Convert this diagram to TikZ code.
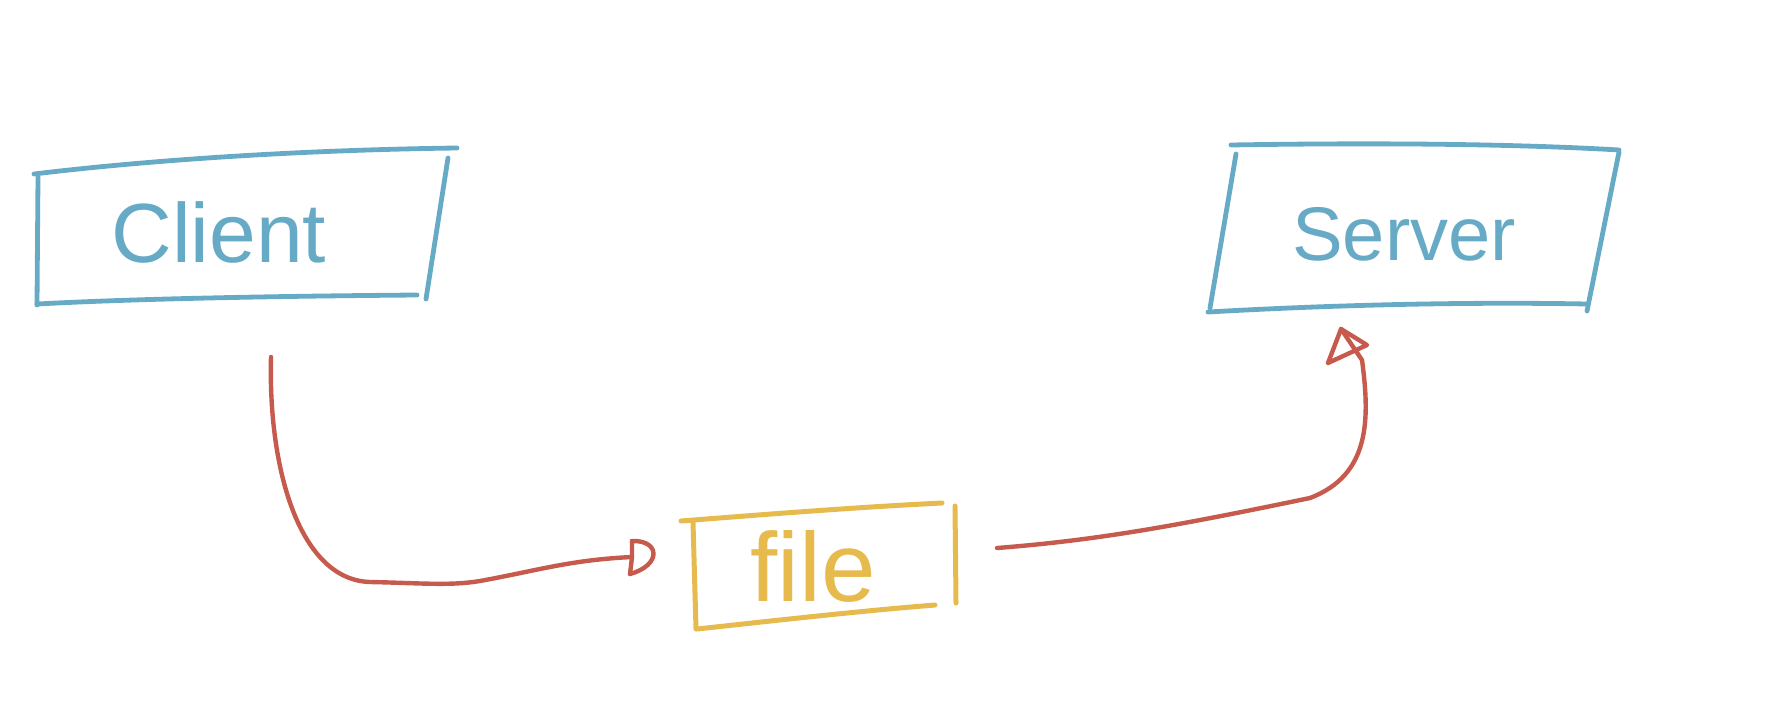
\documentclass[tikz,border=0pt]{standalone}
\usepackage{fontspec}
\setmainfont{Liberation Sans}
\definecolor{sketchblue}{HTML}{66AAC6}
\definecolor{sketchyellow}{HTML}{E7BA4E}
\definecolor{sketchred}{HTML}{C65A4C}
\tikzset{
  bluestroke/.style={draw=sketchblue, line width=4.8pt, line cap=round, line join=round},
  yellowstroke/.style={draw=sketchyellow, line width=5pt, line cap=round, line join=round},
  redstroke/.style={draw=sketchred, line width=4.4pt, line cap=round, line join=round},
  label/.style={inner sep=0pt, anchor=center}
}
\begin{document}
\begin{tikzpicture}[x=1pt, y=-1pt]
\useasboundingbox (0,0) rectangle (1790,712);
% Client box
\draw[bluestroke] (34,174) .. controls (150,160) and (300,150) .. (457,148);
\draw[bluestroke] (38,177) -- (37,305);
\draw[bluestroke] (37,304) .. controls (150,298) and (300,296) .. (417,295);
\draw[bluestroke] (448,158) -- (426,299);
\node[label, text=sketchblue, font=\fontsize{84}{84}\selectfont] (client) at (219,232) {Client};
% Server box
\draw[bluestroke] (1231,145) .. controls (1350,143) and (1500,143) .. (1619,150);
\draw[bluestroke] (1236,154) -- (1210,308);
\draw[bluestroke] (1208,312) .. controls (1350,304) and (1480,302) .. (1587,304);
\draw[bluestroke] (1619,152) -- (1587,311);
\node[label, text=sketchblue, font=\fontsize{76}{76}\selectfont] (server) at (1404,234) {Server};
% file box
\draw[yellowstroke] (681,521) .. controls (770,514) and (860,507) .. (942,503);
\draw[yellowstroke] (693,522) -- (696,629);
\draw[yellowstroke] (697,629) .. controls (780,620) and (860,611) .. (935,605);
\draw[yellowstroke] (955,506) -- (956,603);
\node[label, text=sketchyellow, font=\fontsize{98}{98}\selectfont] (file) at (813,566) {file};
% connectors
\coordinate (c1s) at (271,357);
\coordinate (c1e) at (632,557);
\coordinate (c2s) at (997,548);
\coordinate (c2e) at (1341,329);
\draw[redstroke] (c1s) .. controls (268,470) and (300,580) .. (370,582)
  .. controls (420,583) and (450,586) .. (480,581)
  .. controls (540,570) and (570,560) .. (c1e);
\draw[redstroke] (632,541) -- (632,557) -- (630,574);
\draw[redstroke] (632,541) .. controls (660,540) and (662,565) .. (630,574);
\draw[redstroke] (c2s) .. controls (1100,540) and (1180,525) .. (1310,498)
  .. controls (1370,475) and (1370,420) .. (1362,360) -- (c2e);
\draw[redstroke] (1328,363) -- (1341,329) -- (1367,345) -- (1328,363);
\end{tikzpicture}
\end{document}
